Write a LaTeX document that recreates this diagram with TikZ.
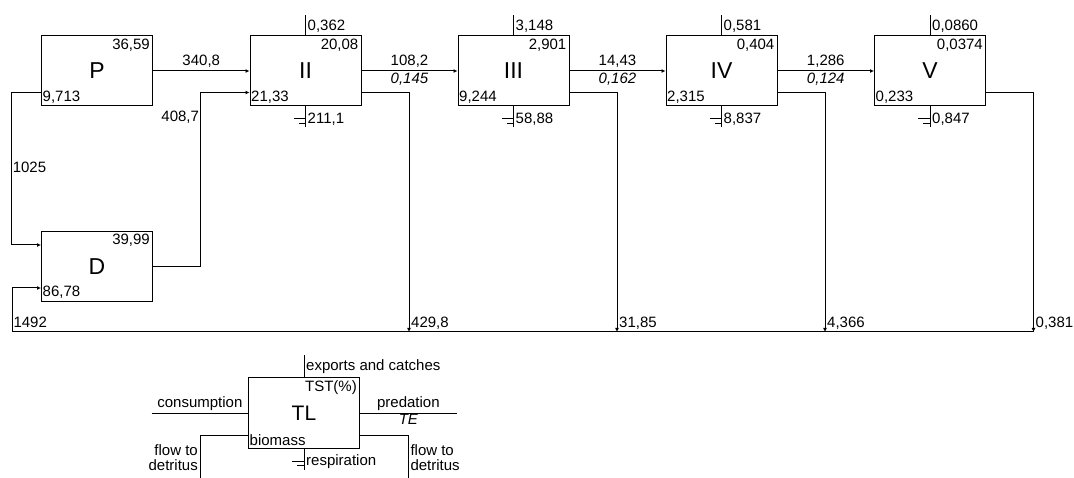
\documentclass[tikz,border=0pt]{standalone}
\usepackage{fontspec}
\setmainfont{Liberation Sans}
\usetikzlibrary{positioning,arrows.meta}

\tikzset{
  nivel/.style={rectangle, draw, line width=1pt, minimum width=111pt,
                minimum height=70pt, inner sep=0pt,
                font=\fontsize{23}{23}\selectfont},
  valor/.style={inner sep=1pt, font=\fontsize{15}{15}\selectfont},
  cursiva/.style={valor, font=\fontsize{15}{15}\selectfont\itshape},
  linea/.style={line width=1pt},
  flujo/.style={line width=1pt, -{Latex[length=4pt,width=4pt]}},
}

\begin{document}
\begin{tikzpicture}[x=1pt, y=-1pt]
  \useasboundingbox (0,0) rectangle (1074,478);

  % Productores y detritos
  \node[nivel] (P) at (97,71) {P};
  \node[nivel] (D) at (97,266.5) {D};
  \node[valor, anchor=north east, xshift=-2pt, yshift=-2pt] (tP) at (P.north east) {36,59};
  \node[valor, anchor=south west, xshift=0.5pt, yshift=2pt] (bP) at (P.south west) {9,713};
  \node[valor, anchor=north east, xshift=-2pt, yshift=-2pt] (tD) at (D.north east) {39,99};
  \node[valor, anchor=south west, xshift=0.5pt, yshift=2pt] (bD) at (D.south west) {86,78};

  % Niveles troficos
  \coordinate (sumidero) at (12,332);
  \foreach \n/\x/\tst/\bio/\exp/\res/\det in {
      II/305.5/{20,08}/{21,33}/{0,362}/{211,1}/{429,8},
      III/513.5/{2,901}/{9,244}/{3,148}/{58,88}/{31,85},
      IV/721.5/{0,404}/{2,315}/{0,581}/{8,837}/{4,366},
      V/930/{0,0374}/{0,233}/{0,0860}/{0,847}/{0,381}}{
    \node[nivel] (\n) at (\x,71) {\n};
    \node[valor, anchor=north east, xshift=-2pt, yshift=-2pt] (t\n) at (\n.north east) {\tst};
    \node[valor, anchor=south west, xshift=0.5pt, yshift=2pt] (b\n) at (\n.south west) {\bio};
    % exportaciones
    \coordinate (e\n) at ([yshift=20pt]\n.north);
    \draw[linea] (\n.north) -- (e\n);
    \node[valor, anchor=north west, xshift=1pt, yshift=-3pt] (le\n) at (e\n) {\exp};
    % respiracion
    \coordinate (r\n) at ([yshift=-21pt]\n.south);
    \draw[linea] (\n.south) -- (r\n);
    \draw[linea] ([shift={(-12pt,-12pt)}]\n.south) -- ++(12,0);
    \draw[linea] ([shift={(-7pt,-17pt)}]\n.south) -- ++(7,0);
    \node[valor, anchor=north west, xshift=1pt, yshift=-5pt] (lr\n) at (\n.south) {\res};
    % flujo a detritos
    \coordinate (d\n) at (\x+103.5,332);
    \draw[flujo] ([yshift=14pt]\n.south east) -| (d\n);
    \node[valor, anchor=south west, xshift=1pt, yshift=1pt] (ld\n) at (d\n) {\det};
  }

  % Flujos entre niveles
  \draw[flujo] (P) -- (II) node[midway, valor, above=2pt] {340,8};
  \foreach \a/\b/\f/\te in {II/III/{108,2}/{0,145}, III/IV/{14,43}/{0,162}, IV/V/{1,286}/{0,124}}
    \draw[flujo] (\a) -- (\b) node[midway, valor, above=2pt] {\f}
                              node[midway, cursiva, below=1pt] {\te};

  \draw[flujo] (D.east) -- ++(47.5,0) |- ([yshift=14pt]II.south west)
    node[pos=0.43, valor, left] {408,7};
  \draw[flujo] ([yshift=14pt]P.south west) -- ++(-29.7,0) |- ([yshift=-14pt]D.north west)
    node[pos=0.245, valor, right] {1025};
  \draw[flujo] (dV) -- (sumidero) |- ([yshift=14pt]D.south west)
    node[pos=0.11, valor, right] {1492};

  % Leyenda
  \node[nivel, font=\fontsize{21}{21}\selectfont] (TL) at (304,413) {TL};
  \node[valor, anchor=north east, xshift=-2pt, yshift=-2pt] (tTL) at (TL.north east) {TST(\%)};
  \node[valor, anchor=south west, xshift=0.5pt, yshift=2pt] (bTL) at (TL.south west) {biomass};
  \coordinate (eTL) at ([yshift=22pt]TL.north);
  \draw[linea] (TL.north) -- (eTL);
  \node[valor, anchor=north west, xshift=1pt, yshift=-3pt] (leTL) at (eTL) {exports and catches};
  \coordinate (consumo) at (151.7,413);
  \coordinate (depredacion) at (456.7,413);
  \draw[linea] (consumo) -- (TL.west) node[midway, valor, above=1pt] {consumption};
  \draw[linea] (TL.east) -- (depredacion) node[midway, valor, above=1pt] {predation}
                                         node[midway, cursiva, below=0pt] {TE};
  \coordinate (rTL) at ([yshift=-21pt]TL.south);
  \draw[linea] (TL.south) -- (rTL);
  \draw[linea] ([shift={(-12pt,-13pt)}]TL.south) -- ++(12,0);
  \draw[linea] ([shift={(-7pt,-17pt)}]TL.south) -- ++(7,0);
  \node[valor, anchor=north west, xshift=1pt, yshift=-5pt] (lrTL) at (TL.south) {respiration};
  \coordinate (detizq) at (200,478);
  \coordinate (detder) at (408.3,478);
  \draw[linea] ([yshift=13pt]TL.south west) -| (detizq);
  \draw[linea] ([yshift=13pt]TL.south east) -| (detder);
  \node[valor, anchor=north east, align=right, xshift=-1pt] (ldi) at (200,443) {flow to\\detritus};
  \node[valor, anchor=north west, align=left, xshift=1pt] (ldd) at (408.3,443) {flow to\\detritus};
\end{tikzpicture}
\end{document}
